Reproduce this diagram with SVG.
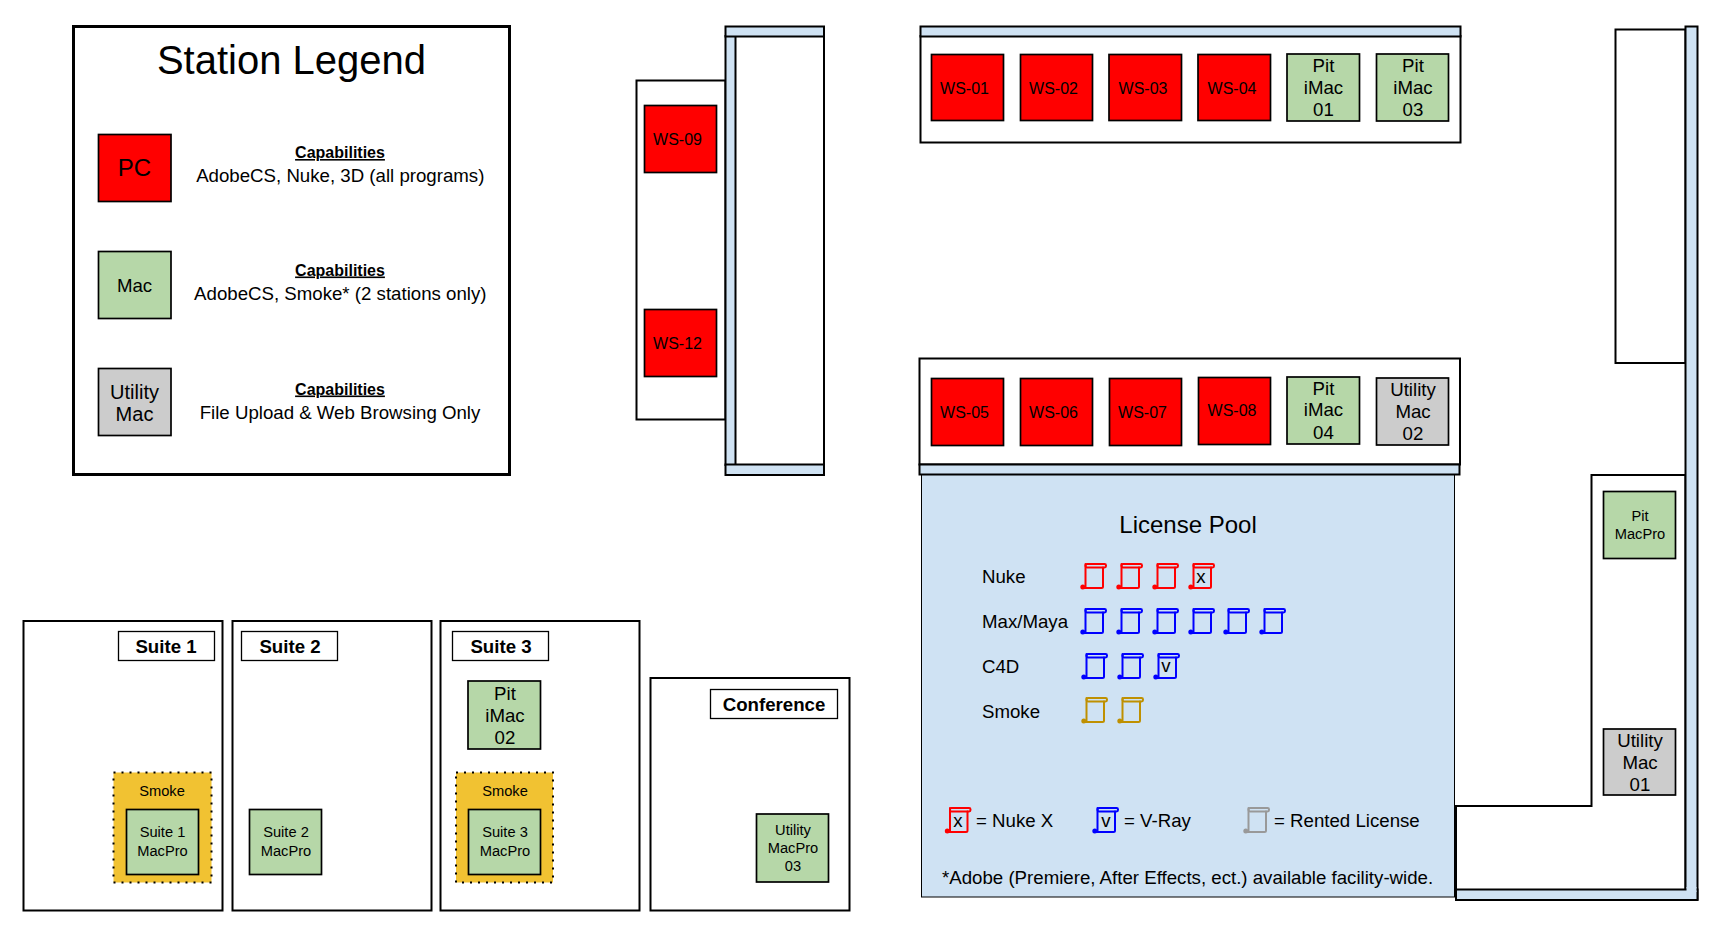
<svg xmlns="http://www.w3.org/2000/svg" width="1718" height="934" viewBox="0 0 1718 934">
<style>
text{font-family:"Liberation Sans",Arial,sans-serif;fill:#000;text-anchor:middle}
.l{text-anchor:start}
.room{fill:#fff;stroke:#000;stroke-width:2}
.wall{fill:#cfe2f3;stroke:#000;stroke-width:2}
.st{stroke:#000;stroke-width:1.700}
.pc{fill:#f00}.mac{fill:#b6d7a8}.ut{fill:#ccc}
.f16{font-size:16px}.f19{font-size:18.67px}.f15{font-size:14.67px}.f20{font-size:20px}
.cap{font-size:16px;font-weight:bold;text-decoration:underline}
.sl{font-size:18.67px;font-weight:bold}
.red{color:#f00}.blue{color:#00f}.gold{color:#bf9000}.gray{color:#999}
.smoke{fill:#f1c232;stroke:#000;stroke-width:2;stroke-dasharray:2 6}
</style>
<defs>
<g id="scroll" fill="none" stroke="currentColor" stroke-width="2" stroke-linejoin="round" stroke-linecap="round">
<rect x="4.500" y="1" width="20.500" height="3.400" rx="1.400"/>
<path d="M4.500 1V24.500M22 4.400V23.500Q22 25 20.500 25H1.500"/>
<circle cx="1.800" cy="24" r="1.500" fill="currentColor"/>
</g>
</defs>

<g id="connectors"></g>

<g id="legend">
<rect x="73.500" y="26.500" width="436" height="448" fill="#fff" stroke="#000" stroke-width="3"/>
<text x="291.500" y="74" font-size="40">Station Legend</text>
<rect class="st pc" x="98.500" y="134.500" width="72.500" height="67"/>
<text x="134.500" y="175.500" font-size="24">PC</text>
<text class="cap" x="340" y="158">Capabilities</text>
<text class="f19" x="340.300" y="182">AdobeCS, Nuke, 3D (all programs)</text>
<rect class="st mac" x="98.500" y="251.500" width="72.500" height="67"/>
<text class="f19" x="134.500" y="291.500">Mac</text>
<text class="cap" x="340" y="275.500">Capabilities</text>
<text class="f19" x="340.300" y="300">AdobeCS, Smoke* (2 stations only)</text>
<rect class="st ut" x="98.500" y="368.500" width="72.500" height="67"/>
<text class="f20" x="134.500" y="399">Utility</text>
<text class="f20" x="134.500" y="421">Mac</text>
<text class="cap" x="340" y="394.500">Capabilities</text>
<text class="f19" x="340" y="419">File Upload &amp; Web Browsing Only</text>
</g>

<g id="room-left">
<rect class="room" x="636.500" y="80.500" width="89" height="339"/>
<rect class="room" x="735" y="36" width="89" height="429"/>
<rect class="wall" x="725.500" y="36" width="10" height="429"/>
<rect class="wall" x="725.500" y="26.500" width="98.500" height="10"/>
<rect class="wall" x="725.500" y="464.500" width="98.500" height="10.500"/>
</g>
<g id="ws-09"><rect class="st pc" x="644.500" y="105.500" width="72" height="67"/><text class="f16" x="677.500" y="145">WS-09</text></g>
<g id="ws-12"><rect class="st pc" x="644.500" y="309.500" width="72" height="67"/><text class="f16" x="677.500" y="349">WS-12</text></g>

<g id="room-top">
<rect class="room" x="920.500" y="36" width="540" height="106.500"/>
<rect class="wall" x="920.500" y="26.500" width="540" height="10"/>
</g>
<g id="ws-01"><rect class="st pc" x="931.500" y="54.500" width="72" height="66"/><text class="f16" x="964.500" y="94">WS-01</text></g>
<g id="ws-02"><rect class="st pc" x="1020.500" y="54.500" width="72" height="66"/><text class="f16" x="1053.500" y="94">WS-02</text></g>
<g id="ws-03"><rect class="st pc" x="1109" y="54.500" width="72.500" height="66"/><text class="f16" x="1143" y="94">WS-03</text></g>
<g id="ws-04"><rect class="st pc" x="1198" y="54.500" width="72.500" height="66"/><text class="f16" x="1232" y="94">WS-04</text></g>
<g id="pit-imac-01"><rect class="st mac" x="1287" y="54" width="72.500" height="67"/><text class="f19" x="1323.500" y="72">Pit</text><text class="f19" x="1323.500" y="94">iMac</text><text class="f19" x="1323.500" y="116">01</text></g>
<g id="pit-imac-03"><rect class="st mac" x="1376.500" y="54" width="72" height="67"/><text class="f19" x="1413" y="72">Pit</text><text class="f19" x="1413" y="94">iMac</text><text class="f19" x="1413" y="116">03</text></g>

<g id="room-mid">
<rect class="room" x="919.500" y="358.500" width="540.500" height="106"/>
<rect class="wall" x="919.500" y="464.500" width="540" height="10"/>
</g>
<g id="ws-05"><rect class="st pc" x="931.500" y="378.500" width="72" height="67"/><text class="f16" x="964.500" y="418">WS-05</text></g>
<g id="ws-06"><rect class="st pc" x="1020.500" y="378.500" width="72" height="67"/><text class="f16" x="1053.500" y="418">WS-06</text></g>
<g id="ws-07"><rect class="st pc" x="1109.500" y="378.500" width="72" height="67"/><text class="f16" x="1142.500" y="418">WS-07</text></g>
<g id="ws-08"><rect class="st pc" x="1198.500" y="377.500" width="72" height="67"/><text class="f16" x="1232" y="416">WS-08</text></g>
<g id="pit-imac-04"><rect class="st mac" x="1287" y="377" width="72.500" height="67"/><text class="f19" x="1323.500" y="395">Pit</text><text class="f19" x="1323.500" y="416">iMac</text><text class="f19" x="1323.500" y="439">04</text></g>
<g id="utility-mac-02"><rect class="st ut" x="1376.500" y="378" width="72" height="67"/><text class="f19" x="1413" y="396">Utility</text><text class="f19" x="1413" y="418">Mac</text><text class="f19" x="1413" y="440">02</text></g>

<g id="license-pool">
<rect x="921.500" y="475" width="533" height="422" fill="#cfe2f3" stroke="#000" stroke-width="1"/>
<text x="1188" y="533" font-size="24">License Pool</text>
<text class="f19 l" x="982" y="583">Nuke</text>
<text class="f19 l" x="982" y="627.500">Max/Maya</text>
<text class="f19 l" x="982" y="672.500">C4D</text>
<text class="f19 l" x="982" y="717.500">Smoke</text>
<g class="red">
<use href="#scroll" x="1081" y="563"/><use href="#scroll" x="1117" y="563"/><use href="#scroll" x="1153" y="563"/><use href="#scroll" x="1189" y="563"/>
</g>
<text class="f19" x="1201" y="583">x</text>
<g class="blue">
<use href="#scroll" x="1081" y="608"/><use href="#scroll" x="1117" y="608"/><use href="#scroll" x="1153" y="608"/><use href="#scroll" x="1189" y="608"/><use href="#scroll" x="1224" y="608"/><use href="#scroll" x="1260" y="608"/>
<use href="#scroll" x="1082" y="653"/><use href="#scroll" x="1118" y="653"/><use href="#scroll" x="1154" y="653"/>
</g>
<text class="f19" x="1166" y="672">v</text>
<g class="gold"><use href="#scroll" x="1082" y="697"/><use href="#scroll" x="1118" y="697"/></g>
<g class="red"><use href="#scroll" x="945.500" y="807"/></g>
<text class="f19" x="958" y="827">x</text>
<text class="f19 l" x="976" y="827">= Nuke X</text>
<g class="blue"><use href="#scroll" x="1093" y="807"/></g>
<text class="f19" x="1106" y="827">v</text>
<text class="f19 l" x="1124" y="827">= V-Ray</text>
<g class="gray"><use href="#scroll" x="1244" y="807"/></g>
<text class="f19 l" x="1274" y="827">= Rented License</text>
<text class="f19 l" x="942" y="884">*Adobe (Premiere, After Effects, ect.) available facility-wide.</text>
</g>

<g id="room-right">
<rect class="room" x="1615.500" y="29.500" width="70" height="333.500"/>
<path class="room" d="M1456 806H1591.500V475H1685.500V890H1456Z"/>
<rect class="wall" x="1685.500" y="26.500" width="12" height="873"/>
<rect class="wall" x="1456" y="889.500" width="241.500" height="10.500"/>
<rect x="1686.500" y="887" width="10" height="5" fill="#cfe2f3"/>
</g>
<g id="pit-macpro"><rect class="st mac" x="1603.500" y="491.500" width="72" height="67"/><text class="f15" x="1640" y="521">Pit</text><text class="f15" x="1640" y="539">MacPro</text></g>
<g id="utility-mac-01"><rect class="st ut" x="1603.500" y="729" width="72" height="66"/><text class="f19" x="1640" y="747">Utility</text><text class="f19" x="1640" y="769">Mac</text><text class="f19" x="1640" y="791">01</text></g>

<g id="suite-1">
<rect class="room" x="23.500" y="621" width="199" height="289.500"/>
<rect x="118.500" y="631.500" width="96" height="29" fill="#fff" stroke="#000" stroke-width="1.300"/>
<text class="sl" x="166" y="653">Suite 1</text>
<rect class="smoke" x="113.500" y="772.500" width="98" height="110"/>
<text class="f15" x="162" y="795.500">Smoke</text>
<rect class="st mac" x="126.500" y="809.500" width="72" height="65"/>
<text class="f15" x="162.500" y="837">Suite 1</text><text class="f15" x="162.500" y="856">MacPro</text>
</g>
<g id="suite-2">
<rect class="room" x="232.500" y="621" width="199" height="289.500"/>
<rect x="241.500" y="631.500" width="96" height="29" fill="#fff" stroke="#000" stroke-width="1.300"/>
<text class="sl" x="290" y="653">Suite 2</text>
<rect class="st mac" x="249.500" y="809.500" width="72" height="65"/>
<text class="f15" x="286" y="837">Suite 2</text><text class="f15" x="286" y="856">MacPro</text>
</g>
<g id="suite-3">
<rect class="room" x="440.500" y="621" width="199" height="289.500"/>
<rect x="452.500" y="631.500" width="96" height="29" fill="#fff" stroke="#000" stroke-width="1.300"/>
<text class="sl" x="501" y="653">Suite 3</text>
<rect class="st mac" x="468" y="681" width="72.500" height="68"/>
<text class="f19" x="505" y="700">Pit</text><text class="f19" x="505" y="722">iMac</text><text class="f19" x="505" y="744">02</text>
<rect class="smoke" x="456" y="772.500" width="97" height="110"/>
<text class="f15" x="505" y="795.500">Smoke</text>
<rect class="st mac" x="468.500" y="809.500" width="72" height="65"/>
<text class="f15" x="505" y="837">Suite 3</text><text class="f15" x="505" y="856">MacPro</text>
</g>
<g id="conference">
<rect class="room" x="650.500" y="678" width="199" height="232.500"/>
<rect x="710.500" y="689.500" width="127" height="29" fill="#fff" stroke="#000" stroke-width="1.300"/>
<text class="sl" x="774" y="711">Conference</text>
<rect class="st mac" x="756.500" y="814" width="72" height="68"/>
<text class="f15" x="793" y="835">Utility</text><text class="f15" x="793" y="853">MacPro</text><text class="f15" x="793" y="871">03</text>
</g>
</svg>
